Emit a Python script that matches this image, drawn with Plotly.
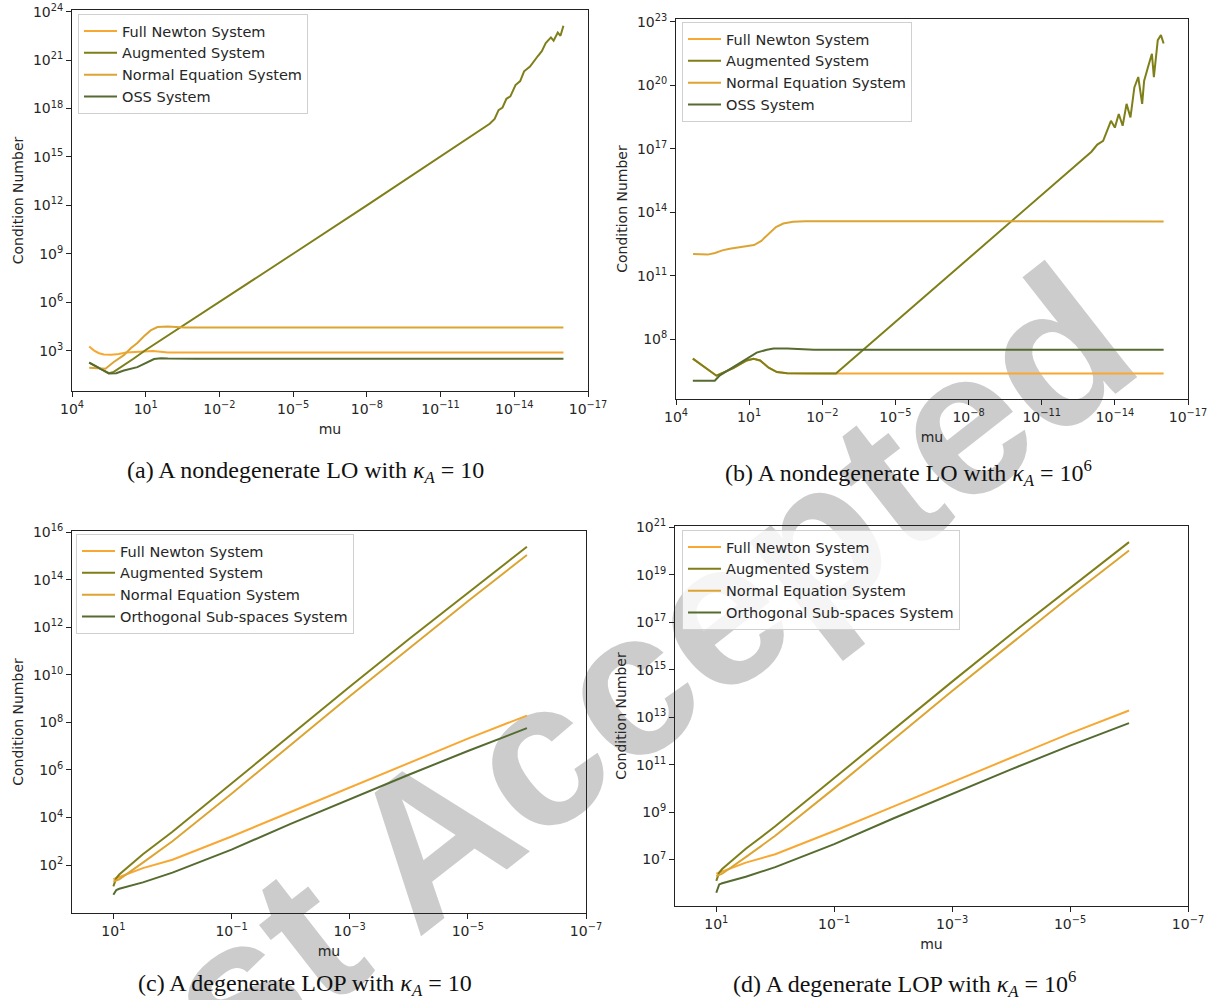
import plotly.graph_objects as go

# ---------------- data (log10 values) ----------------
# Panel (a): nondegenerate LO, kappa_A = 10
a_fn_mu = [3.3, 3.1, 2.9, 2.7, 2.4, 2.1, 1.8, 1.4, 1.0, 0.7, 0.4, 0.1, -1, -16]
a_fn_c = [3.25, 3.0, 2.84, 2.76, 2.75, 2.79, 2.88, 2.92, 2.96, 2.97, 2.93, 2.88, 2.88, 2.88]

a_aug_mu = [3.3, 3.0, 2.7, 2.5, 2.3, 2.0, 1.5, 1.0, -2, -5, -8, -11, -12.0, -12.5, -13.0,
            -13.2, -13.36, -13.52, -13.68, -13.84, -14.05, -14.24, -14.4, -14.64, -14.8,
            -14.96, -15.12, -15.28, -15.49, -15.6, -15.77, -15.88, -16.0]
a_aug_c = [2.26, 2.0, 1.72, 1.6, 1.68, 1.98, 2.5, 3.04, 6.0, 9.0, 12.0, 15.0, 16.0, 16.5, 17.05,
           17.35, 17.9, 18.05, 18.6, 18.75, 19.45, 19.7, 20.3, 20.6, 20.95,
           21.25, 21.55, 22.05, 22.4, 22.2, 22.7, 22.5, 23.13]

a_ne_mu = [3.3, 3.0, 2.64, 2.3, 1.89, 1.61, 1.34, 1.07, 0.8, 0.52, 0.11, -0.57, -16]
a_ne_c = [1.94, 1.9, 1.88, 2.3, 2.72, 3.15, 3.47, 3.89, 4.25, 4.46, 4.5, 4.44, 4.44]

a_oss_mu = [3.3, 3.0, 2.7, 2.5, 2.2, 1.89, 1.34, 1.07, 0.8, 0.66, 0.38, 0.1, -1, -16]
a_oss_c = [2.26, 2.0, 1.72, 1.58, 1.6, 1.77, 1.98, 2.19, 2.4, 2.48, 2.53, 2.51, 2.5, 2.5]

# Panel (b): nondegenerate LO, kappa_A = 1e6
b_fn_mu = [3.31, 2.8, 2.34, 1.65, 1.1, 0.82, 0.55, 0.2, -0.14, -0.56, -1.39, -16]
b_fn_c = [7.085, 6.65, 6.28, 6.64, 7.0, 7.08, 7.0, 6.66, 6.45, 6.4, 6.38, 6.38]

b_aug_mu = [3.31, 2.8, 2.34, 1.65, 1.1, 0.82, 0.55, 0.2, -0.14, -0.56, -1.39, -2.56, -2.63,
            -3.87, -5.12, -6.9, -9.83, -11.43, -13.04, -13.28, -13.52, -13.84, -14.0, -14.16,
            -14.32, -14.48, -14.64, -14.8, -14.96, -15.12, -15.2, -15.36, -15.52, -15.6,
            -15.76, -15.89, -16.0]
b_aug_c = [7.085, 6.65, 6.28, 6.64, 7.0, 7.08, 7.0, 6.66, 6.45, 6.4, 6.38, 6.38, 6.45,
           7.69, 8.94, 10.72, 13.65, 15.25, 16.86, 17.2, 17.37, 18.32, 18.0, 18.64,
           18.09, 19.12, 18.48, 19.9, 20.39, 19.12, 20.2, 20.86, 21.49, 20.38,
           22.13, 22.37, 21.97]

b_ne_mu = [3.3, 3.0, 2.7, 2.4, 2.1, 1.8, 1.5, 1.2, 1.0, 0.8, 0.5, 0.2, -0.1, -0.4, -0.8, -1.3, -16]
b_ne_c = [12.03, 12.02, 12.0, 12.08, 12.2, 12.28, 12.33, 12.37, 12.4, 12.45, 12.65, 13.0,
          13.3, 13.47, 13.55, 13.58, 13.57]

b_oss_mu = [3.31, 2.41, 2.2, 1.65, 1.1, 0.69, 0.27, 0.0, -0.56, -1.66, -16]
b_oss_c = [6.04, 6.04, 6.3, 6.69, 7.08, 7.37, 7.51, 7.57, 7.56, 7.51, 7.51]

# Panel (c): degenerate LOP, kappa_A = 10
cd_mu = [1.0, 0.95, 0.9, 0.5, 0.0, -1, -2, -3, -4, -5, -6]
c_fn = [1.4, 1.45, 1.5, 1.87, 2.22, 3.2, 4.23, 5.26, 6.29, 7.32, 8.29]
c_aug = [1.1, 1.45, 1.6, 2.45, 3.4, 5.43, 7.5, 9.5, 11.5, 13.45, 15.4]
c_ne = [1.3, 1.35, 1.4, 2.1, 3.0, 5.0, 7.05, 9.1, 11.1, 13.1, 15.05]
c_oss = [0.75, 0.95, 1.0, 1.27, 1.68, 2.65, 3.73, 4.78, 5.8, 6.8, 7.76]

# Panel (d): degenerate LOP, kappa_A = 1e6
d_fn = [6.4, 6.45, 6.5, 6.87, 7.22, 8.2, 9.23, 10.26, 11.29, 12.32, 13.28]
d_aug = [6.1, 6.45, 6.6, 7.45, 8.4, 10.43, 12.5, 14.5, 16.5, 18.45, 20.38]
d_ne = [6.3, 6.35, 6.4, 7.1, 8.0, 10.0, 12.05, 14.1, 16.1, 18.1, 20.03]
d_oss = [5.6, 5.95, 6.0, 6.27, 6.68, 7.65, 8.73, 9.78, 10.8, 11.8, 12.75]

names_ab = ["Full Newton System", "Augmented System", "Normal Equation System", "OSS System"]
names_cd = ["Full Newton System", "Augmented System", "Normal Equation System",
            "Orthogonal Sub-spaces System"]
colors = ["#F7A833", "#7F7F1A", "#DCA533", "#566B30"]

# tick exponents
x_ticks_ab = [4, 1, -2, -5, -8, -11, -14, -17]
x_ticks_cd = [1, -1, -3, -5, -7]
y_ticks = [[3, 6, 9, 12, 15, 18, 21, 24], [8, 11, 14, 17, 20, 23],
           [2, 4, 6, 8, 10, 12, 14, 16], [7, 9, 11, 13, 15, 17, 19, 21]]

captions = [
    "(a) A nondegenerate LO with <i>κ<sub>A</sub></i> = 10",
    "(b) A nondegenerate LO with <i>κ<sub>A</sub></i> = 10<sup>6</sup>",
    "(c) A degenerate LOP with <i>κ<sub>A</sub></i> = 10",
    "(d) A degenerate LOP with <i>κ<sub>A</sub></i> = 10<sup>6</sup>",
]

# ---------------- figure ----------------
W, H = 1211, 1000
fig = go.Figure()


def pw(v):
    return [10.0 ** x for x in v]


def tick_text(exps):
    return ["10<sup>%s</sup>" % (str(e).replace("-", "\u2212")) for e in exps]


panels = [
    dict(series=[(a_fn_mu, a_fn_c), (a_aug_mu, a_aug_c), (a_ne_mu, a_ne_c), (a_oss_mu, a_oss_c)],
         names=names_ab, xt=x_ticks_ab),
    dict(series=[(b_fn_mu, b_fn_c), (b_aug_mu, b_aug_c), (b_ne_mu, b_ne_c), (b_oss_mu, b_oss_c)],
         names=names_ab, xt=x_ticks_ab),
    dict(series=[(cd_mu, c_fn), (cd_mu, c_aug), (cd_mu, c_ne), (cd_mu, c_oss)],
         names=names_cd, xt=x_ticks_cd),
    dict(series=[(cd_mu, d_fn), (cd_mu, d_aug), (cd_mu, d_ne), (cd_mu, d_oss)],
         names=names_cd, xt=x_ticks_cd),
]

# pixel boxes: left, right, top, bottom
boxes = [(72, 588, 10, 391), (676, 1188, 19, 399), (72, 586, 531, 913), (675, 1188, 526, 906)]
xranges = [[4, -17], [4, -17], [1.7, -7], [1.7, -7]]
yranges = [[0.5, 24.1], [5.18, 23.13], [-0.02, 16.06], [5.04, 21.06]]
legend_pos = [(78, 14), (682, 22), (76, 534), (682, 530)]
caption_pos = [(305, 472), (908, 473), (305, 985), (905, 984)]

axis_font = dict(family="DejaVu Sans", size=14, color="#262626")

for i, p in enumerate(panels):
    k = "" if i == 0 else str(i + 1)
    lg = "legend" if i == 0 else "legend" + str(i + 1)
    for j, (mx, cy) in enumerate(p["series"]):
        fig.add_trace(go.Scatter(
            x=pw(mx), y=pw(cy), mode="lines", name=p["names"][j],
            line=dict(color=colors[j], width=2),
            xaxis="x" + k, yaxis="y" + k, legend=lg, showlegend=True))
    l, r, t, b = boxes[i]
    common = dict(type="log", showline=True, mirror=True, linecolor="#222", linewidth=1,
                  ticks="outside", ticklen=5, tickwidth=1, tickcolor="#222",
                  showgrid=False, zeroline=False, automargin=False,
                  tickfont=axis_font, tickmode="array")
    fig.layout["xaxis" + k] = dict(
        common, domain=[l / W, r / W], anchor="y" + k, range=xranges[i],
        tickvals=pw(p["xt"]), ticktext=tick_text(p["xt"]),
        title=dict(text="mu", font=axis_font, standoff=8))
    fig.layout["yaxis" + k] = dict(
        common, domain=[1 - b / H, 1 - t / H], anchor="x" + k, range=yranges[i],
        tickvals=pw(y_ticks[i]), ticktext=tick_text(y_ticks[i]),
        title=dict(text="Condition Number", font=axis_font, standoff=6))
    lx, ly = legend_pos[i]
    fig.layout[lg] = dict(
        x=lx / W, y=1 - ly / H, xanchor="left", yanchor="top",
        bgcolor="rgba(255,255,255,0.8)", bordercolor="#d0d0d0", borderwidth=1,
        font=dict(family="DejaVu Sans", size=14.5, color="#262626"),
        itemwidth=33, tracegroupgap=0)
    cx, cy_ = caption_pos[i]
    fig.add_annotation(text=captions[i], x=cx / W, y=1 - cy_ / H, xref="paper", yref="paper",
                       showarrow=False, xanchor="center", yanchor="middle",
                       font=dict(family="Liberation Serif", size=24, color="#111"))

# watermark drawn below the plot contents
wx, wy = 540, 728
fig.add_shape(type="rect", xref="paper", yref="paper",
              x0=(wx - 1) / W, x1=(wx + 1) / W, y0=1 - (wy + 1) / H, y1=1 - (wy - 1) / H,
              line=dict(width=0, color="rgba(0,0,0,0)"), fillcolor="rgba(0,0,0,0)",
              layer="below",
              label=dict(text="<b>Just Accepted</b>", textangle=-38,
                         textposition="middle center",
                         font=dict(family="Liberation Sans", size=206, color="#cccccc")))

fig.update_layout(width=W, height=H, margin=dict(l=0, r=0, t=0, b=0),
                  paper_bgcolor="white", plot_bgcolor="rgba(0,0,0,0)",
                  showlegend=True)

fig.write_html("out.html")
